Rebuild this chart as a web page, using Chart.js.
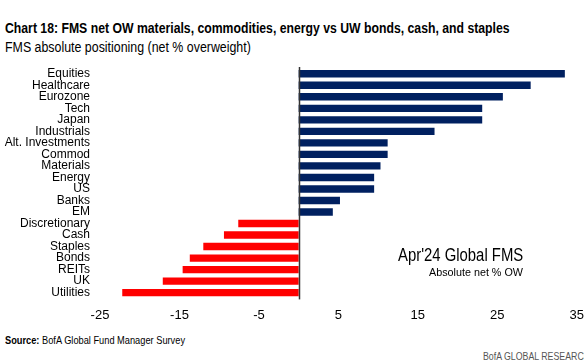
<!DOCTYPE html>
<html><head><meta charset="utf-8">
<script src="https://cdn.jsdelivr.net/npm/chart.js@4/dist/chart.umd.min.js"></script>
<style>
html,body{margin:0;padding:0;background:#fff;width:584px;height:362px;overflow:hidden;position:relative;font-family:"Liberation Sans",Arial,sans-serif;}
.t{position:absolute;white-space:nowrap;color:#000;line-height:1;transform-origin:0 0;}
#title{left:5px;top:20.3px;font-size:15px;font-weight:bold;}
#sub{left:5px;top:39.5px;font-size:14px;}
#src{left:5px;top:334.7px;font-size:11px;}
#brand{left:483px;top:350.7px;font-size:11px;color:#555;}
#brandtop{left:483px;top:-8.6px;font-size:11px;color:#999;}
#ann1{left:398px;top:247px;font-size:17.5px;}
#ann2{left:429px;top:266.7px;font-size:11px;}
#wrap{position:absolute;left:0;top:52.4px;width:593px;height:280px;}
</style></head><body>
<div class="t" id="brandtop">BofA GLOBAL RESEARCH</div>
<div class="t" id="title">Chart 18: FMS net OW materials, commodities, energy vs UW bonds, cash, and staples</div>
<div class="t" id="sub">FMS absolute positioning (net % overweight)</div>
<div id="wrap"><canvas id="c"></canvas></div>
<div class="t" id="ann1">Apr'24 Global FMS</div>
<div class="t" id="ann2">Absolute net % OW</div>
<div class="t" id="src"><b>Source:</b> BofA Global Fund Manager Survey</div>
<div class="t" id="brand">BofA GLOBAL RESEARCH</div>
<script>
const categories = ["Equities","Healthcare","Eurozone","Tech","Japan","Industrials","Alt. Investments","Commod","Materials","Energy","US","Banks","EM","Discretionary","Cash","Staples","Bonds","REITs","UK","Utilities"];
const netOW = [33.5,29.2,25.7,23.1,23.1,17.1,11.2,11.2,10.3,9.5,9.5,5.2,4.3,-7.6,-9.4,-12.0,-13.7,-14.6,-17.1,-22.2];
const xTicks = [-25,-15,-5,5,15,25,35];

// horizontally condense HTML text to the reference's widths
[["title",505],["sub",246],["src",180],["ann1",125],["ann2",94],["brand",107],["brandtop",107]].forEach(([id,w])=>{
  const el=document.getElementById(id); el.style.transform=`scaleX(${w/el.offsetWidth})`;
});

const FONT = '"Liberation Sans", Arial, sans-serif';
new Chart(document.getElementById('c'), {
  type: 'bar',
  data: {
    labels: categories,
    datasets: [{
      data: netOW,
      backgroundColor: netOW.map(v => v >= 0 ? '#002060' : '#FF0000'),
      borderWidth: 0,
      barPercentage: 0.64,
      categoryPercentage: 1
    }]
  },
  options: {
    indexAxis: 'y',
    responsive: true,
    maintainAspectRatio: false,
    animation: false,
    layout: { padding: { left: 0, right: 5, top: 6, bottom: 0 } },
    plugins: { legend: { display: false }, tooltip: { enabled: false }, title: { display: false } },
    scales: {
      x: {
        min: -25, max: 35,
        afterBuildTicks: s => { s.ticks = xTicks.map(v => ({ value: v })); },
        grid: { display: false, drawTicks: false },
        border: { display: false },
        ticks: { color: '#000', font: { family: FONT, size: 13 }, padding: 9, maxRotation: 0, autoSkip: false }
      },
      y: {
        afterFit: s => { s.width = 100; },
        grid: { display: false, drawTicks: false },
        border: { display: false },
        ticks: { color: '#000', font: { family: FONT, size: 12, lineHeight: 1 }, padding: 10, autoSkip: false }
      }
    }
  },
  plugins: [{
    id: 'zeroLine',
    afterDatasetsDraw(chart) {
      const { ctx, chartArea, scales } = chart;
      const x = Math.round(scales.x.getPixelForValue(0)) + 0.5;
      ctx.save(); ctx.strokeStyle = '#333'; ctx.lineWidth = 1.5;
      ctx.beginPath(); ctx.moveTo(x, chartArea.top - 1); ctx.lineTo(x, chartArea.bottom + 1); ctx.stroke(); ctx.restore();
    }
  }]
});
</script>
</body></html>
